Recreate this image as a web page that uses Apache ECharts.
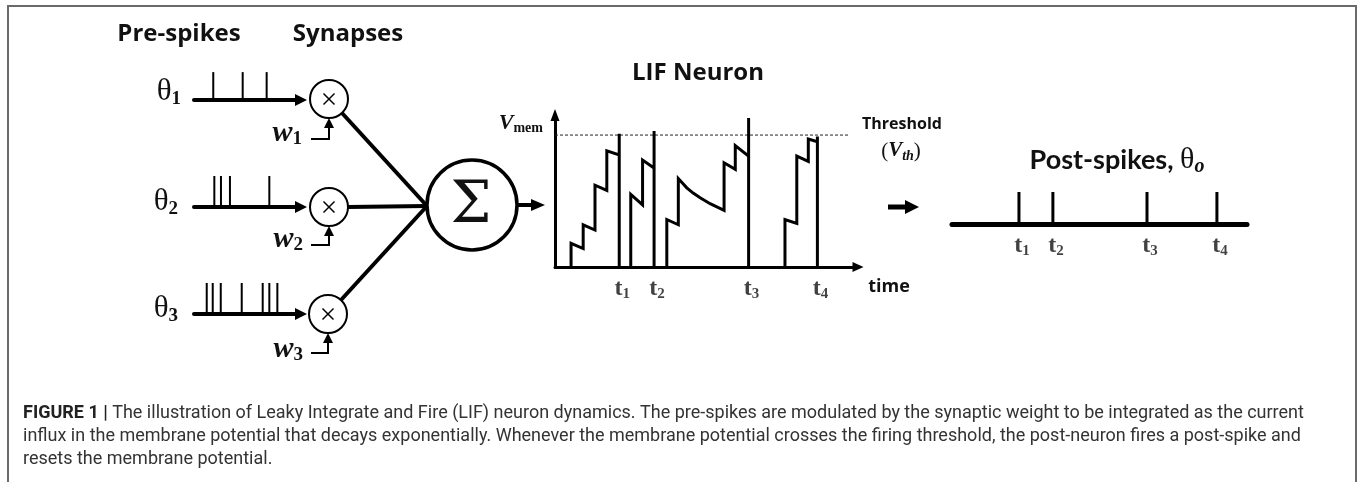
<!DOCTYPE html>
<html><head><meta charset="utf-8">
<script src="https://cdn.jsdelivr.net/npm/echarts/dist/echarts.min.js"></script>
<style>html,body{margin:0;padding:0;background:#fff}#c{width:1360px;height:482px}</style>
</head><body><div id="c"></div>
<script>
// ---- LIF membrane potential trace (time 0..100, Vmem in units of Vth) ----
const burst1 = [[5.3,0],[5.3,0.18],[9.3,0.14],[9.3,0.32],[13.2,0.28],[13.2,0.62],[17.1,0.58],[17.1,0.88],[21.2,0.85],[21.2,1.01],[21.2,0]];
const burst2 = [[25,0],[25,0.55],[28.9,0.47],[28.9,0.81],[32.7,0.75],[32.7,1.03],[32.7,0]];
const burst3 = [[36.9,0],[36.9,0.36],[40.7,0.32],[40.7,0.67],[43.5,0.60],[45.6,0.56],[47.9,0.525],[51.2,0.48],[55.8,0.43],[55.8,0.79],[59.5,0.74],[59.5,0.92],[63.9,0.84],[63.9,1.13],[63.9,0]];
const burst4 = [[75.9,0],[75.9,0.36],[79.8,0.33],[79.8,0.84],[83.6,0.80],[83.6,0.97],[86.6,0.95],[86.6,0.99],[86.6,0]];
const thresholdV = 1.0;
const thresholdEnd = 96.8;
const fireTimes = [21.2, 32.7, 63.9, 86.6];
const fireLabels = ['1', '2', '3', '4'];
// ---- post-spike train ----
const postSpikes = [22.7, 34.2, 66.1, 89.8];
// ---- pre-spike trains ----
const pre1 = [18.0, 45.5, 67.9];
const pre2 = [19.0, 25.2, 33.6, 70.4];
const pre3 = [11.9, 17.5, 25.0, 44.6, 64.2, 70.4, 77.9];
const pre1Height = 0.9, pre2Height = 1, pre3Height = 1;

const K = '#000';
const chart = echarts.init(document.getElementById('c'));

function hiddenAxis(gi){ return {gridIndex:gi, type:'value', min:0, max:1, show:false}; }
function trainX(gi, width, arrow, symSize){
  return {gridIndex:gi, type:'value', min:0, max:100,
    axisLine:{show:true, onZero:true, lineStyle:{color:K, width:width}, symbol: arrow ? ['none','triangle'] : ['none','none'], symbolSize: symSize || [10,10]},
    axisTick:{show:false}, axisLabel:{show:false}, splitLine:{show:false}};
}
const tRich = {
  t:{fontFamily:'Liberation Serif', fontWeight:'bold', fontSize:24, lineHeight:26, color:'#111', verticalAlign:'middle'},
  s:{fontFamily:'Liberation Serif', fontWeight:'bold', fontSize:15, lineHeight:15, color:'#111', verticalAlign:'bottom'}
};
function labelSeries(xi, times, dist){
  return {type:'scatter', xAxisIndex:xi, yAxisIndex:xi, symbolSize:1, itemStyle:{color:'rgba(0,0,0,0)'},
    data: times.map(t=>[t,0]), silent:true,
    label:{show:true, position:'bottom', distance:dist, offset:[3,0],
      formatter:(p)=>'{t|t}{s|'+fireLabels[p.dataIndex]+'}', rich:tRich}};
}
function spikeBars(xi, times, h, w){
  return {type:'bar', xAxisIndex:xi, yAxisIndex:xi, barWidth:w, itemStyle:{color:K}, silent:true,
    data: times.map(t=>[t,h])};
}
function traceSeries(d){
  return {type:'line', xAxisIndex:0, yAxisIndex:0, data:d, symbol:'none', silent:true,
    lineStyle:{color:K, width:3, join:'miter'}, z:3};
}

// graphic helpers
function L(x1,y1,x2,y2,w){ return {type:'line', shape:{x1,y1,x2,y2}, style:{stroke:K, lineWidth:w, lineCap:'butt'}, z:10}; }
function C(cx,cy,r,w){ return {type:'circle', shape:{cx,cy,r}, style:{fill:'#fff', stroke:K, lineWidth:w}, z:10}; }
function P(pts){ return {type:'polygon', shape:{points:pts}, style:{fill:K}, z:11}; }
function T(text,x,y,opt){
  return {type:'text', z:12, style:Object.assign({text, x, y, fill:K,
    align:opt.align||'center', verticalAlign:'middle', textAlign:opt.align||'center', textVerticalAlign:'middle'}, opt.style)};
}
function cross(cx,cy){ const d=5.5; return [L(cx-d,cy-d,cx+d,cy+d,1.5), L(cx-d,cy+d,cx+d,cy-d,1.5)]; }
function upArrow(x,y){ return P([[x-5,y+10],[x,y],[x+5,y+10]]); }

const serif = 'Liberation Serif';
function subRich(mainSize, subSize, mainStyle, subStyle, lh){
  return {
    a:{fontFamily:serif, fontSize:mainSize, lineHeight:lh, verticalAlign:'middle', fontStyle:mainStyle[0], fontWeight:mainStyle[1], fill:'#111'},
    b:{fontFamily:serif, fontSize:subSize, lineHeight:subSize, verticalAlign:'bottom', fontStyle:subStyle[0], fontWeight:subStyle[1], fill:'#111'}
  };
}
const thetaRich = subRich(31, 19, ['normal','normal'], ['normal','bold'], 34);
const wRich = subRich(30, 19, ['italic','bold'], ['normal','bold'], 32);
const heading = {font:'bold 24px "Open Sans"', fill:'#111'};

const synapses = [[329,99],[329,207],[328,314]];
const graphics = [
  {type:'rect', shape:{x:8, y:6, width:1348, height:520}, style:{fill:'none', stroke:'#6a6a6a', lineWidth:2}, z:1},
  T('Pre-spikes', 179, 34, {style:heading}),
  T('Synapses', 348, 34, {style:heading}),
  T('LIF Neuron', 698, 73, {style:heading}),
  T('{a|θ}{b|1}', 181, 92, {align:'right', style:{rich:thetaRich}}),
  T('{a|θ}{b|2}', 178, 202, {align:'right', style:{rich:thetaRich}}),
  T('{a|θ}{b|3}', 178, 309, {align:'right', style:{rich:thetaRich}}),
  T('{a|w}{b|1}', 302, 133, {align:'right', style:{rich:wRich}}),
  T('{a|w}{b|2}', 303, 239, {align:'right', style:{rich:wRich}}),
  T('{a|w}{b|3}', 303, 349, {align:'right', style:{rich:wRich}}),
  // w arrows
  {type:'polyline', shape:{points:[[311,139],[329,139],[329,126]]}, style:{stroke:K, lineWidth:2, fill:'none'}, z:10},
  upArrow(329,118),
  {type:'polyline', shape:{points:[[311,245],[329,245],[329,234]]}, style:{stroke:K, lineWidth:2, fill:'none'}, z:10},
  upArrow(329,226),
  {type:'polyline', shape:{points:[[311,353],[328,353],[328,341]]}, style:{stroke:K, lineWidth:2, fill:'none'}, z:10},
  upArrow(328,333),
  // connections to summation
  L(342,113,427,206,4), L(348,207,427,206,4), L(341,300,427,206,4),
  C(472,205,45,3.5),
  T('Σ', 471, 207, {style:{font:'58px "DejaVu Serif"', fill:'#111'}}),
  L(517,205,534,205,4), P([[531,199],[545,205],[531,211]]),
  // V_mem, threshold
  T('{a|V}{b|mem}', 543, 123, {align:'right', style:{rich:{
    a:{fontFamily:serif, fontSize:22, fontStyle:'italic', fontWeight:'bold', lineHeight:24, verticalAlign:'middle', fill:'#111'},
    b:{fontFamily:serif, fontSize:14, fontWeight:'bold', lineHeight:14, verticalAlign:'bottom', fill:'#111'}}}}),
  T('Threshold', 902, 124, {style:{font:'bold 16px "Open Sans"', fill:'#111'}}),
  T('{p|(}{a|V}{b|th}{p|)}', 901, 151, {style:{rich:{
    p:{fontFamily:serif, fontSize:21, lineHeight:24, verticalAlign:'middle', fill:'#111'},
    a:{fontFamily:serif, fontSize:21, fontStyle:'italic', fontWeight:'bold', lineHeight:24, verticalAlign:'middle', fill:'#111'},
    b:{fontFamily:serif, fontSize:14, fontStyle:'italic', fontWeight:'bold', lineHeight:14, verticalAlign:'bottom', fill:'#111'}}}}),
  T('time', 889, 287, {style:{font:'bold 18px "Open Sans"', fill:'#111'}}),
  L(888,207,908,207,5), P([[905,200],[919,207],[905,214]]),
  // post-spikes title
  T('{h|Post-spikes, }{a|θ}{b|o}', 1117, 160, {style:{rich:{
    h:{fontFamily:'Lato', fontWeight:'bold', fontSize:27, lineHeight:34, verticalAlign:'middle', fill:'#111'},
    a:{fontFamily:serif, fontSize:30, lineHeight:34, verticalAlign:'middle', fill:'#111'},
    b:{fontFamily:serif, fontSize:20, fontStyle:'italic', fontWeight:'bold', lineHeight:20, verticalAlign:'bottom', fill:'#111'}}}}),
  // caption
  {type:'text', z:12, style:{x:23, y:413, verticalAlign:'middle', textVerticalAlign:'middle',
    text:'{b|FIGURE 1 |} The illustration of Leaky Integrate and Fire (LIF) neuron dynamics. The pre-spikes are modulated by the synaptic weight to be integrated as the current',
    font:'18px Roboto', fill:'#333', rich:{b:{fontFamily:'Roboto', fontWeight:'bold', fontSize:18, fill:'#222'}}}},
  {type:'text', z:12, style:{x:23, y:436, verticalAlign:'middle', textVerticalAlign:'middle',
    text:'influx in the membrane potential that decays exponentially. Whenever the membrane potential crosses the firing threshold, the post-neuron fires a post-spike and',
    font:'18px Roboto', fill:'#333'}},
  {type:'text', z:12, style:{x:23, y:459, verticalAlign:'middle', textVerticalAlign:'middle',
    text:'resets the membrane potential.', font:'18px Roboto', fill:'#333'}}
];
synapses.forEach(([x,y])=>{ graphics.push(C(x,y,19,2)); graphics.push(...cross(x,y)); });

chart.setOption({
  animation:false,
  backgroundColor:'#fff',
  grid:[
    {left:555, top:115, width:303, height:152},
    {left:952, top:192, width:295, height:32},
    {left:194, top:69, width:107, height:31},
    {left:194, top:176, width:107, height:31},
    {left:194, top:283, width:107, height:31}
  ],
  xAxis:[
    trainX(0, 3, true, [10,11]),
    trainX(1, 5, false),
    trainX(2, 4, true, [12,12]),
    trainX(3, 4, true, [12,12]),
    trainX(4, 4, true, [12,12])
  ],
  yAxis:[
    {gridIndex:0, type:'value', min:0, max:1.152,
      axisLine:{show:true, onZero:true, lineStyle:{color:K, width:3}, symbol:['none','triangle'], symbolSize:[9,12]},
      axisTick:{show:false}, axisLabel:{show:false}, splitLine:{show:false}},
    hiddenAxis(1), hiddenAxis(2), hiddenAxis(3), hiddenAxis(4)
  ],
  series:[
    {type:'line', xAxisIndex:0, yAxisIndex:0, data:[[0,thresholdV],[thresholdEnd,thresholdV]], symbol:'none', silent:true,
      lineStyle:{color:'#222', width:1, type:[3,2]}, z:1},
    traceSeries(burst1), traceSeries(burst2), traceSeries(burst3), traceSeries(burst4),
    labelSeries(0, fireTimes, 8),
    spikeBars(1, postSpikes, 1, 3),
    labelSeries(1, postSpikes, 8),
    spikeBars(2, pre1, pre1Height, 2),
    spikeBars(3, pre2, pre2Height, 2),
    spikeBars(4, pre3, pre3Height, 2)
  ],
  graphic:{elements:graphics}
});
</script></body></html>
